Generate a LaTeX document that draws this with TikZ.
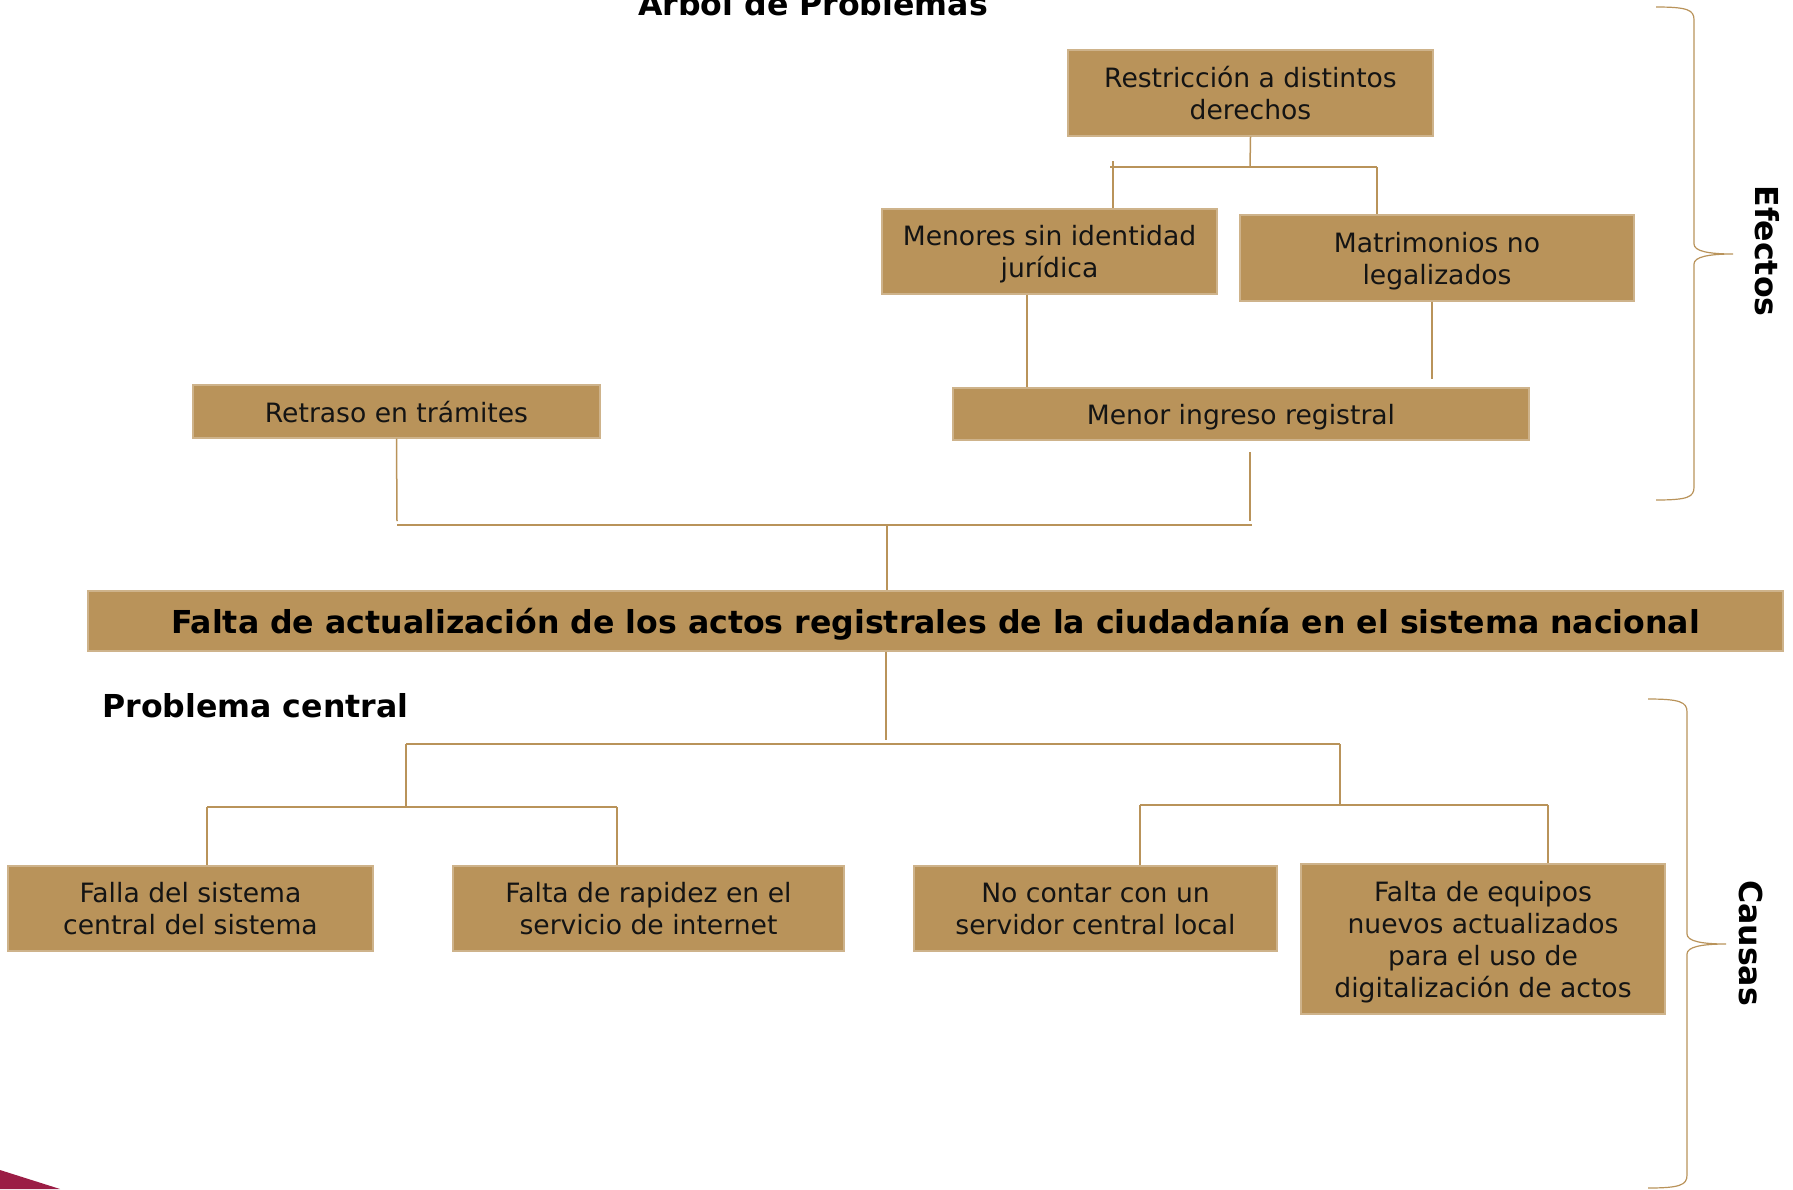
\documentclass[tikz,border=0pt]{standalone}
\usepackage{fontspec}
\setmainfont{DejaVu Sans}
\usepackage{tikz}
\usetikzlibrary{arrows.meta,positioning,calc,decorations.pathreplacing}
\definecolor{atan}{HTML}{B9935A}
\definecolor{amaroon}{HTML}{9B1D45}
\definecolor{atext}{HTML}{141414}
\tikzset{
  caja/.style={fill=atan,draw=atan!70!white,line width=0.6pt,align=center,text=atext,font=\fontsize{13.3}{16}\selectfont,inner sep=2pt,text depth=0pt},
  barra/.style={fill=atan,draw=atan!70!white,line width=0.6pt,align=center,text=black,font=\fontsize{15.8}{18}\selectfont\bfseries,inner sep=2pt,text depth=0pt},
  lin/.style={draw=atan,line width=0.75pt},
  llave/.style={draw=atan,line width=0.6pt},
  tit/.style={font=\fontsize{15.8}{18}\selectfont\bfseries,text=black,inner sep=0pt},
}
\begin{document}
\begin{tikzpicture}[x=0.5pt,y=-0.5pt]
  \useasboundingbox (0,0) rectangle (1793,1189);
  \clip (0,0) rectangle (1793,1189);
  \fill[amaroon] (0,1170) -- (60,1189) -- (0,1189) -- cycle;

  \node[tit,anchor=base] (titulo) at (813,15) {Árbol de Problemas};

  % efectos
  \node[caja,minimum width=182.5pt,minimum height=43pt] (restr) at (1250.5,93) {Restricción a distintos\\derechos};
  \node[caja,minimum width=167.5pt,minimum height=42.5pt] (menores) at (1049.5,251.5) {Menores sin identidad\\jurídica};
  \node[caja,minimum width=197pt,minimum height=43pt] (matrim) at (1437,258) {Matrimonios no\\legalizados};
  \node[caja,minimum width=288pt,minimum height=26pt] (ingreso) at (1241,414) {Menor ingreso registral};
  \node[caja,minimum width=203.5pt,minimum height=26.5pt] (retraso) at (396.5,411.5) {Retraso en trámites};

  % problema central
  \node[barra,minimum width=847.5pt,minimum height=30pt] (central) at (935.5,621) {Falta de actualización de los actos registrales de la ciudadanía en el sistema nacional};
  \node[tit,anchor=west] (pcentral) at (102,706) {Problema central};

  % causas
  \node[caja,minimum width=182.5pt,minimum height=42.5pt] (falla) at (190.5,908.5) {Falla del sistema\\central del sistema};
  \node[caja,minimum width=195.5pt,minimum height=42.5pt] (rapidez) at (648.5,908.5) {Falta de rapidez en el\\servicio de internet};
  \node[caja,minimum width=181.5pt,minimum height=42.5pt] (servidor) at (1095.5,908.5) {No contar con un\\servidor central local};
  \node[caja,minimum width=182pt,minimum height=75pt] (equipos) at (1483,939) {Falta de equipos\\nuevos actualizados\\para el uso de\\digitalización de actos};

  % uniones
  \coordinate (j1) at (1250,167);
  \coordinate (j1a) at (1110,167);
  \coordinate (j1b) at (1377,167);
  \coordinate (m1) at (1113,161);
  \coordinate (mv) at (1027,300);
  \coordinate (mt) at (1432,379);
  \coordinate (rt) at (397,521);
  \coordinate (it) at (1250,452);
  \coordinate (ib) at (1250,521);
  \coordinate (ja) at (397,525);
  \coordinate (jb) at (1252,525);
  \coordinate (jc) at (887,525);
  \coordinate (cb) at (886,740);
  \coordinate (k1) at (406,744);
  \coordinate (k2) at (1340,744);
  \coordinate (k1a) at (207,807);
  \coordinate (k1b) at (617,807);
  \coordinate (k1c) at (406,807);
  \coordinate (k2a) at (1140,805);
  \coordinate (k2b) at (1548,805);
  \coordinate (k2c) at (1340,805);

  \draw[lin] (restr.south) -- (j1);
  \draw[lin] (j1a) -- (j1b);
  \draw[lin] (m1) -- (m1 |- menores.north);
  \draw[lin] (j1b) -- (j1b |- matrim.north);
  \draw[lin] (menores.south -| mv) -- (ingreso.north -| mv);
  \draw[lin] (matrim.south -| mt) -- (mt);
  \draw[lin] (retraso.south) -- (rt);
  \draw[lin] (it) -- (ib);
  \draw[lin] (ja) -- (jb);
  \draw[lin] (jc) -- (central.north -| jc);
  \draw[lin] (central.south -| cb) -- (cb);
  \draw[lin] (k1) -- (k2);
  \draw[lin] (k1) -- (k1c);
  \draw[lin] (k2) -- (k2c);
  \draw[lin] (k1a) -- (k1b);
  \draw[lin] (k1a) -- (k1a |- falla.north);
  \draw[lin] (k1b) -- (k1b |- rapidez.north);
  \draw[lin] (k2a) -- (k2b);
  \draw[lin] (k2a) -- (k2a |- servidor.north);
  \draw[lin] (k2b) -- (k2b |- equipos.north);

  % llaves
  \draw[llave] (1656,7) .. controls (1688,7) and (1694,10) .. (1694,20)
    -- (1694,244) .. controls (1694,251) and (1708,254) .. (1733,254)
    .. controls (1708,254) and (1694,257) .. (1694,264)
    -- (1694,487) .. controls (1694,497) and (1688,500) .. (1656,500);
  \draw[llave] (1648,699) .. controls (1680,699) and (1687,702) .. (1687,712)
    -- (1687,934) .. controls (1687,941) and (1701,944) .. (1726,944)
    .. controls (1701,944) and (1687,947) .. (1687,954)
    -- (1687,1175) .. controls (1687,1185) and (1680,1188) .. (1648,1188);
  \node[tit,rotate=-90] (efectos) at (1767,251) {Efectos};
  \node[tit,rotate=-90] (causas) at (1751,943) {Causas};
\end{tikzpicture}
\end{document}
